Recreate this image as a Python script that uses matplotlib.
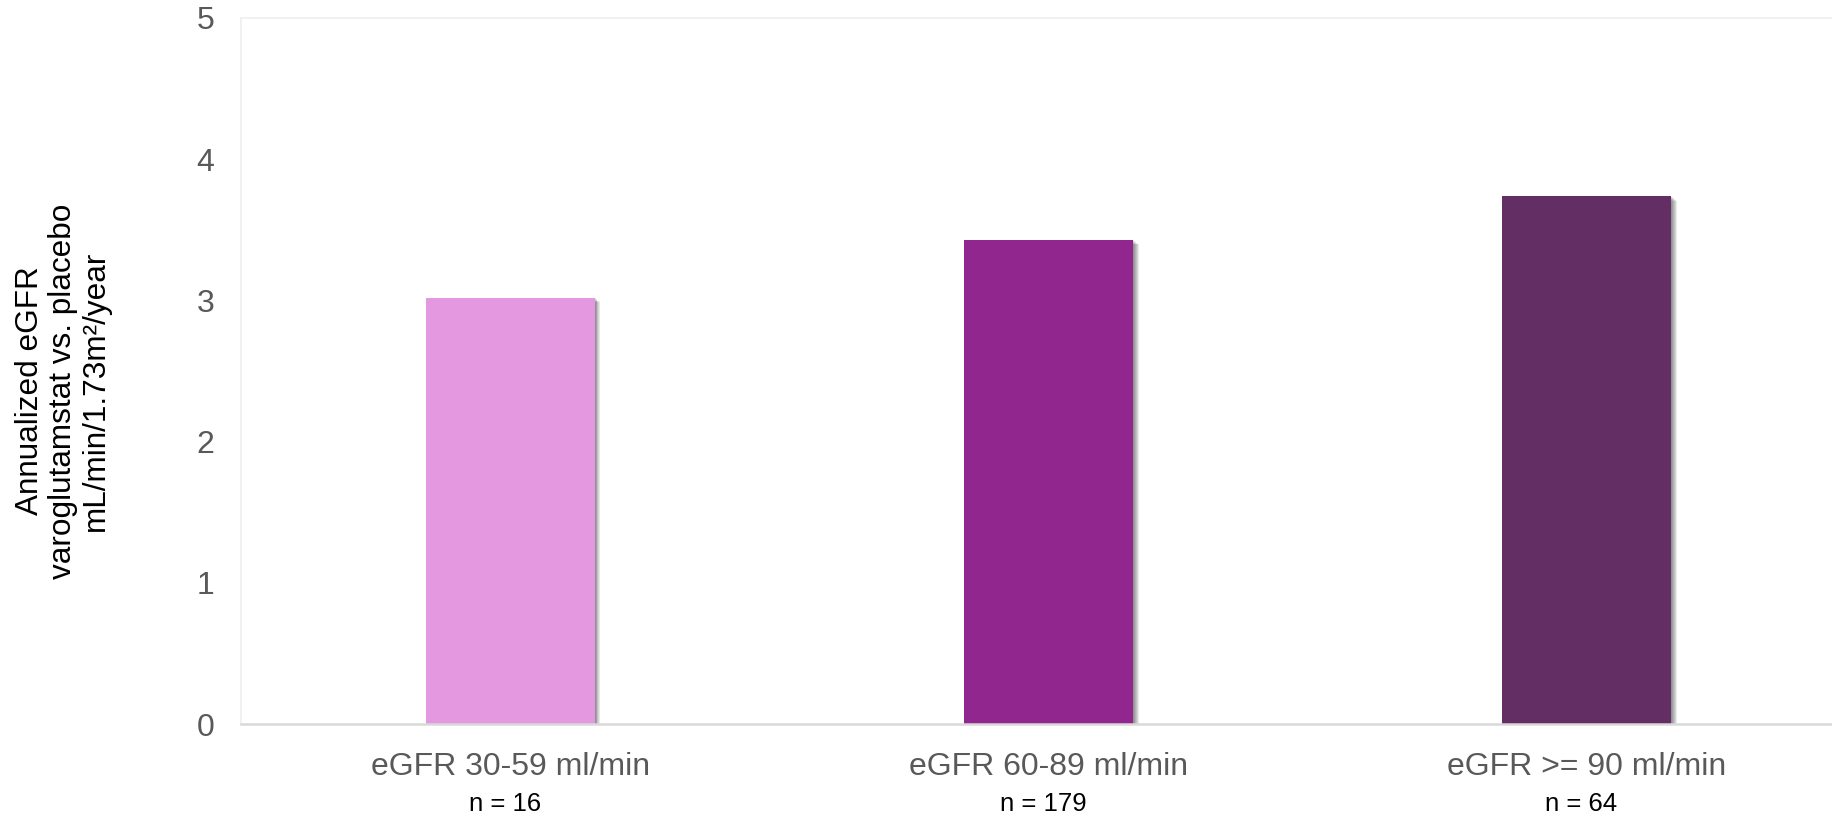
import matplotlib
matplotlib.use("Agg")
import matplotlib.pyplot as plt
import matplotlib.patheffects as pe
from matplotlib.transforms import blended_transform_factory

plt.rcParams["font.family"] = ["Liberation Sans", "DejaVu Sans"]

# Data
categories = ["eGFR 30-59 ml/min", "eGFR 60-89 ml/min", "eGFR >= 90 ml/min"]
values = [3.02, 3.43, 3.74]
n_labels = ["n = 16", "n = 179", "n = 64"]
bar_colors = ["#E398E0", "#91278E", "#632E63"]
yticks = [0, 1, 2, 3, 4, 5]
ylabel_lines = ["Annualized eGFR", "varoglutamstat vs. placebo", "mL/min/1.73m\u00b2/year"]

W, H, DPI = 1833, 816, 100
fig = plt.figure(figsize=(W / DPI, H / DPI), dpi=DPI)
fig.patch.set_facecolor("white")

# axes spans from x=241 px to beyond the right edge, y from 18 to 724 px
left_px, right_px, top_px, bottom_px = 241, 1855.5, 18, 724
ax = fig.add_axes([left_px / W, 1 - bottom_px / H,
                   (right_px - left_px) / W, (bottom_px - top_px) / H])

x = list(range(len(categories)))

# soft drop shadow built from stacked offset copies
shadow = [pe.SimplePatchShadow(offset=(d, -d * 0.8), shadow_rgbFace="#000000", alpha=0.085)
          for d in (0.7, 1.4, 2.1, 2.8, 3.5, 4.2)]
bars = ax.bar(x, values, width=0.314, color=bar_colors, zorder=3)
for b in bars:
    b.set_path_effects(shadow + [pe.Normal()])

ax.set_xlim(-0.5, 2.5)
ax.set_ylim(0, 5)
ax.set_yticks(yticks)
ax.set_yticklabels([str(t) for t in yticks])
ax.set_xticks(x)
ax.set_xticklabels(categories)

ax.tick_params(axis="y", length=0, pad=19, labelsize=23, labelcolor="#595959")
ax.tick_params(axis="x", length=0, pad=20, labelsize=23, labelcolor="#595959")

for side in ("left", "top", "right"):
    ax.spines[side].set_color("#EFEFEF")
    ax.spines[side].set_linewidth(1.2)
ax.spines["bottom"].set_color("#D9D9D9")
ax.spines["bottom"].set_linewidth(1.8)
ax.spines["bottom"].set_zorder(4)

# sample sizes under each category
trans = blended_transform_factory(ax.transData, ax.transAxes)
n_y = -(804 - bottom_px) / (bottom_px - top_px)
for xi, lab in zip(x, n_labels):
    ax.text(xi - 0.01, n_y, lab, transform=trans, ha="center", va="center",
            fontsize=18.5, color="black")

fig.text(63 / W, 1 - 391 / H, "\n".join(ylabel_lines), rotation=90,
         ha="center", va="center", multialignment="center",
         fontsize=22.7, color="black", linespacing=1.15)

fig.savefig("out.png", dpi=DPI, facecolor="white")
